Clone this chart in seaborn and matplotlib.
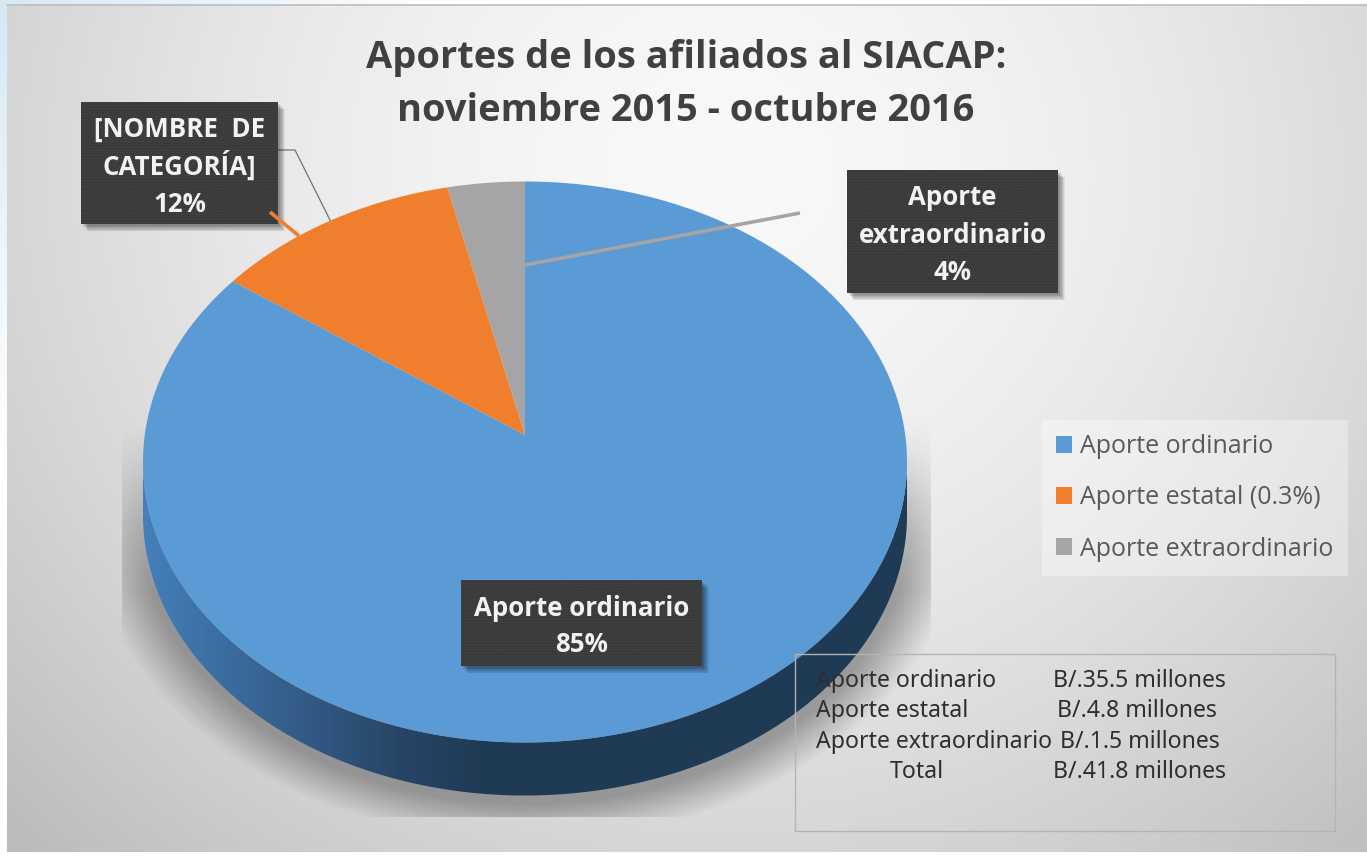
import numpy as np
import matplotlib
matplotlib.use("Agg")
import matplotlib.pyplot as plt
import seaborn as sns
from matplotlib.patches import Rectangle, Polygon

categories = ["Aporte ordinario", "Aporte estatal (0.3%)", "Aporte extraordinario"]
values = [35.5, 4.8, 1.5]
percent_labels = ["85%", "12%", "4%"]
data_labels = ["Aporte ordinario\n85%", "[NOMBRE  DE\nCATEGORÍA]\n12%", "Aporte\nextraordinario\n4%"]
title_lines = "Aportes de los afiliados al SIACAP:\nnoviembre 2015 - octubre 2016"
table_names = ["Aporte ordinario", "Aporte estatal", "Aporte extraordinario", "Total"]
table_values = ["B/.35.5 millones", "B/.4.8 millones", "B/.1.5 millones", "B/.41.8 millones"]
colors = ["#5B9BD5", "#F07F2D", "#A5A5A5"]

sns.set_theme(style="white")
plt.rcParams["font.family"] = ["Open Sans", "DejaVu Sans"]
plt.rcParams["hatch.linewidth"] = 0.5

W, H = 1367, 857
fig = plt.figure(figsize=(W / 100, H / 100), dpi=100)
ax = fig.add_axes([0, 0, 1, 1])
ax.set_xlim(0, W)
ax.set_ylim(H, 0)
ax.axis("off")

# outer page
yy, xx = np.mgrid[0:H, 0:W]
page = np.ones((H, W, 3))
fade = np.clip(1 - (xx / 450 + yy / 450), 0, 1)[..., None]
page = page * (1 - fade) + np.array([0.84, 0.91, 0.96]) * fade
ax.imshow(page, extent=(0, W, H, 0), zorder=0, aspect="auto")

# chart background gradient
r = np.sqrt(((xx - 720) / 800.0) ** 2 + ((yy - 170) / 760.0) ** 2)
g = 0.975 - 0.165 * np.clip(r, 0, 1.25) ** 1.7
bg = ax.imshow(np.dstack([g, g, g]), extent=(0, W, H, 0), zorder=1, aspect="auto")
bg.set_clip_path(Rectangle((7, 5), W - 7, 847, transform=ax.transData))
ax.plot([7, W], [5, 5], color="#BDBDBD", lw=1.2, zorder=1.1)

# pie geometry
cx, cy, rx, ry, depth = 525, 462, 382, 280.5, 53
e = 27 / ry


def rim(theta):
    u, v = np.sin(theta), np.cos(theta)
    d = 1 + e * v
    return cx + rx * u * np.sqrt(1 - e ** 2) / d, cy - ry * (v + e) / d


# soft shadow
sx = (xx - cx) / (rx + 4.0)
sy = (yy - (cy + depth + 4)) / (ry + 4.0)
rr = np.sqrt(sx ** 2 + sy ** 2)
alpha = np.clip((1.13 - rr) / 0.13, 0, 1) ** 1.0 * 0.55
alpha *= np.clip((yy - 420) / 170.0, 0, 1)
alpha[(yy > 816) | (xx < 122) | (xx > 930)] = 0
shadow = np.zeros((H, W, 4))
shadow[..., :3] = 0.38
shadow[..., 3] = alpha
ax.imshow(shadow, extent=(0, W, H, 0), zorder=2, aspect="auto")

# side of the pie
t = np.linspace(np.pi / 2, 3 * np.pi / 2, 300)
lx, ly = cx + rx * np.sin(t), cy - ry * np.cos(t)
side_pts = np.r_[np.c_[lx, ly], np.c_[lx[::-1], ly[::-1] + depth]]
stops_x = np.array([143, 220, 300, 400, 480, 907])
stops_c = np.array([[0.27, 0.50, 0.74], [0.23, 0.43, 0.63], [0.20, 0.36, 0.53],
                    [0.15, 0.27, 0.40], [0.125, 0.23, 0.33], [0.12, 0.23, 0.33]])
grad = np.dstack([np.interp(np.arange(W), stops_x, stops_c[:, i]) for i in range(3)])
side = ax.imshow(np.repeat(grad, 2, axis=0), extent=(0, W, H, 0), zorder=3, aspect="auto")
side.set_clip_path(Polygon(side_pts, transform=ax.transData))

# pie top, from the values
fractions = np.array(values) / np.sum(values)
edges = np.r_[0, np.cumsum(fractions)] * 2 * np.pi
handles = []
for i, c in enumerate(colors):
    th = np.linspace(edges[i], edges[i + 1], 400)
    px, py = rim(th)
    poly = ax.fill(np.r_[cx, px], np.r_[cy - e * ry, py], color=c, lw=0, zorder=4)[0]
    handles.append(poly)

# leader lines
ax.plot([525, 800], [265, 213], color=colors[2], lw=2.6, zorder=5, solid_capstyle="butt")
ax.plot([270, 299], [212, 236], color=colors[1], lw=2.6, zorder=6.8, solid_capstyle="butt")
ax.plot([278, 295, 331], [150, 150, 222], color="#7F7F7F", lw=1, zorder=3.5)


def label(x0, y0, x1, y1, text, lines_y):
    for k in range(1, 9):
        ax.add_patch(Rectangle((x0 + 1 + k * 0.7, y0 + 1 + k * 0.8), x1 - x0, y1 - y0,
                               fc="black", ec="none", alpha=0.06, zorder=6))
    ax.add_patch(Rectangle((x0, y0), x1 - x0, y1 - y0, fc="#3A3A3A", ec="#484848",
                           hatch="......", lw=0, zorder=6.5))
    for s, y in zip(text.split("\n"), lines_y):
        ax.text((x0 + x1) / 2, y, s, color="#F2F2F2", ha="center", va="center",
                fontsize=18.6, fontweight="bold", zorder=7)


label(461, 580, 702, 666, data_labels[0], [608, 645])
label(81, 102, 278, 224, data_labels[1], [129, 166, 204])
label(847, 170, 1058, 293, data_labels[2], [197, 235, 273])

# title
for s, y in zip(title_lines.split("\n"), [58, 111]):
    ax.text(686, y, s, color="#404040", ha="center", va="center",
            fontsize=27.4, fontweight="bold", zorder=7)

# legend
leg = ax.legend(handles, categories, loc="upper left", bbox_to_anchor=(1042 / W, 1 - 420 / H),
                bbox_transform=fig.transFigure, frameon=True, framealpha=0.35, facecolor="white",
                edgecolor="none", fancybox=False, fontsize=18, labelcolor="#595959",
                handlelength=0.65, handleheight=0.65, handletextpad=0.32, labelspacing=1.05,
                borderpad=0.56, borderaxespad=0)
leg.set_zorder(7)

# table box
ax.add_patch(Rectangle((795, 654), 540, 177, fc="none", ec="#B4B4B4", lw=1, zorder=7))
name_x = [816, 816, 816, 890]
val_x = [1053, 1057, 1060, 1053]
for n, v, nx, vx, y in zip(table_names, table_values, name_x, val_x, [681, 711, 742, 772]):
    ax.text(nx, y, n, color="#2E2E2E", va="center", fontsize=16.6, family="Noto Sans", zorder=8)
    ax.text(vx, y, v, color="#2E2E2E", va="center", fontsize=16.6, family="Noto Sans", zorder=8)

fig.savefig("out.png", dpi=100)
